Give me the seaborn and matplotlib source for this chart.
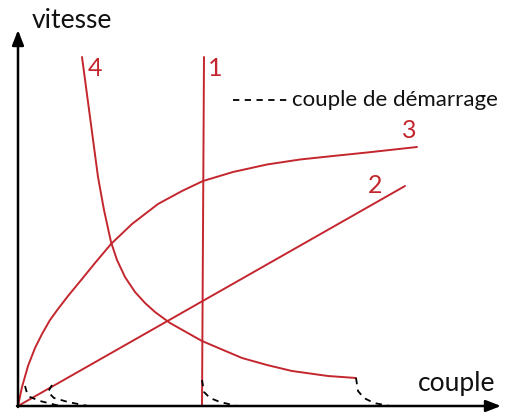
import numpy as np
import pandas as pd
import matplotlib.pyplot as plt
import seaborn as sns

sns.set_style("white")
plt.rcParams['font.family'] = ['Lato', 'DejaVu Sans']

RED = "#c4262e"

# ----------- curves (couple, vitesse) -----------
c1_x = [186, 184]
c1_y = [349, 0]

c2_x = [0, 387]
c2_y = [0, 220]

c3_x = [0, 4, 10, 17, 24, 32, 40, 50, 64, 77, 93, 114, 140, 164, 185,
        215, 249, 282, 315, 349, 399]
c3_y = [0, 19, 40, 58, 72, 86, 97, 110, 127, 143, 162, 182, 202, 215, 225,
        234, 241.5, 246.5, 250, 253.5, 259]

c4_x = [64, 72, 80, 86, 93, 99, 107, 117, 127, 137, 152, 184, 224, 249, 274,
        310, 338]
c4_y = [349, 289, 229, 196, 164, 146, 129, 114, 103, 94, 83, 65, 48, 41, 35,
        30, 28]

# ----------- starting torque (dashed) -----------
dA_x = [7, 9, 12, 22, 42]
dA_y = [20, 13, 9, 5, 0]
dB_x = [34, 30, 36, 50, 70]
dB_y = [21, 14, 8, 4, 0]
dC_x = [184, 186, 192, 202, 219]
dC_y = [26, 14, 8, 4, 0]
dD_x = [338, 340, 346, 356, 372]
dD_y = [28, 15, 8, 3, 0]

labels = ["1", "2", "3", "4"]
label_x = [190, 350, 384, 70]
label_y = [338, 221, 276, 338]

fig = plt.figure(figsize=(5.08, 4.12), dpi=100)
ax = fig.add_axes([0, 0, 1, 1])

for xs, ys in [(c1_x, c1_y), (c2_x, c2_y), (c3_x, c3_y), (c4_x, c4_y)]:
    df = pd.DataFrame({"couple": xs, "vitesse": ys})
    sns.lineplot(data=df, x="couple", y="vitesse", sort=False, color=RED,
                 lw=1.4, solid_joinstyle="round", ax=ax)

for xs, ys in [(dA_x, dA_y), (dB_x, dB_y), (dC_x, dC_y), (dD_x, dD_y)]:
    df = pd.DataFrame({"couple": xs, "vitesse": ys})
    sns.lineplot(data=df, x="couple", y="vitesse", sort=False, color="black",
                 lw=1.3, ls=(0, (3.5, 3)), ax=ax)

for t, x, y in zip(labels, label_x, label_y):
    ax.text(x, y, t, color=RED, fontsize=18, ha="left", va="center")

# axes arrows
ax.annotate("", xy=(0, 376), xytext=(0, -1),
            arrowprops=dict(arrowstyle="-|>,head_width=0.35,head_length=0.9",
                            color="black", lw=1.8, shrinkA=0, shrinkB=0))
ax.annotate("", xy=(483, 0), xytext=(-1, 0),
            arrowprops=dict(arrowstyle="-|>,head_width=0.35,head_length=0.9",
                            color="black", lw=1.8, shrinkA=0, shrinkB=0))

ax.text(14, 386, "vitesse", fontsize=19, ha="left", va="center", color="#111111")
ax.text(400, 23, "couple", fontsize=19, ha="left", va="center", color="#111111")

# legend
ax.plot([215, 269], [306, 306], color="black", lw=1.3, ls=(0, (3.5, 3)))
ax.text(274, 306, "couple de démarrage", fontsize=16, ha="left",
        va="center", color="#111111")

ax.set_xlim(-18, 490)
ax.set_ylim(-6, 406)
ax.set_axis_off()

plt.savefig("out.png", dpi=100)
